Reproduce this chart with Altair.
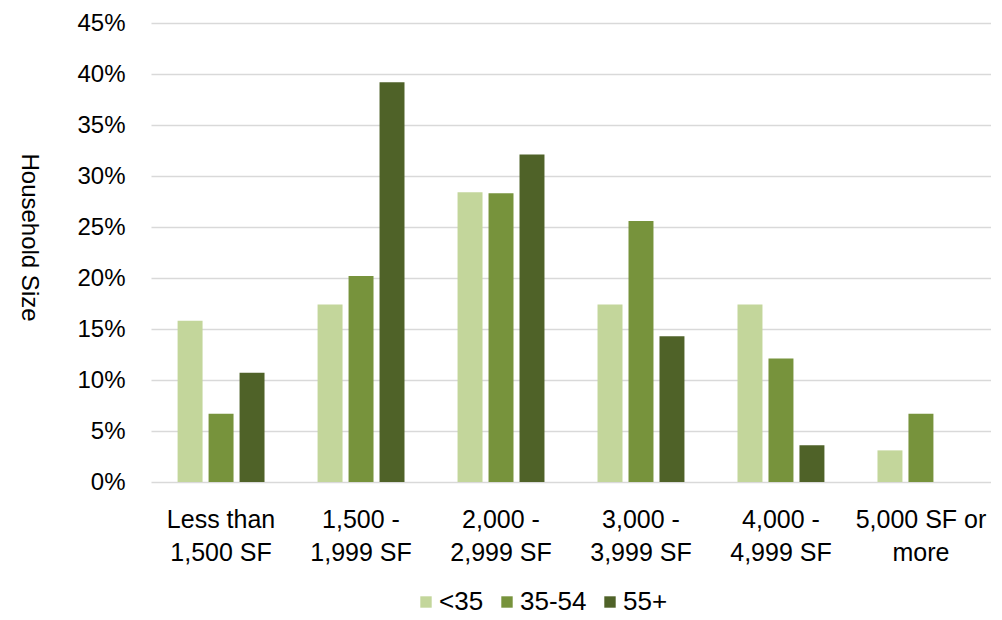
import altair as alt
import pandas as pd

categories = ["Less than|1,500 SF", "1,500 -|1,999 SF", "2,000 -|2,999 SF",
              "3,000 -|3,999 SF", "4,000 -|4,999 SF", "5,000 SF or|more"]
age_groups = ["<35", "35-54", "55+"]
under_35 = [15.8, 17.4, 28.4, 17.4, 17.4, 3.1]
age_35_54 = [6.7, 20.2, 28.3, 25.6, 12.1, 6.7]
age_55_plus = [10.7, 39.2, 32.1, 14.3, 3.6, None]
colors = ["#C3D69B", "#77933C", "#4F6228"]

rows = []
for series, vals in zip(age_groups, [under_35, age_35_54, age_55_plus]):
    for c, v in zip(categories, vals):
        if v is not None:
            rows.append({"cat": c, "age": series, "value": v / 100})
df = pd.DataFrame(rows)

FONT = "Liberation Sans"

chart = alt.Chart(df).mark_bar().encode(
    x=alt.X("cat:N", sort=categories,
            scale=alt.Scale(paddingInner=0.379, paddingOuter=0.19),
            axis=alt.Axis(title=None, labelAngle=0, labelExpr="split(datum.label, '|')",
                          labelFont=FONT, labelFontSize=25, labelColor="#000000",
                          labelLineHeight=33, labelPadding=25, ticks=False, domain=False)),
    xOffset=alt.XOffset("age:N", sort=age_groups,
                        scale=alt.Scale(paddingInner=0.194, paddingOuter=0)),
    y=alt.Y("value:Q", scale=alt.Scale(domain=[0, 0.45], nice=False),
            axis=alt.Axis(title="Household Size", format=".0%", values=[i * 0.05 for i in range(10)],
                          labelFont=FONT, labelFontSize=24, labelColor="#000000", labelPadding=26,
                          ticks=False, domain=False, grid=True, gridColor="#d9d9d9", gridWidth=1.5,
                          titleFont=FONT, titleFontSize=24, titleFontWeight="normal", titleColor="#000000",
                          titleAngle=90, titleX=-123, titleY=214, titleAlign="center",
                          titleBaseline="middle")),
    color=alt.Color("age:N", sort=age_groups,
                    scale=alt.Scale(domain=age_groups, range=colors),
                    legend=alt.Legend(title=None, orient="none", direction="horizontal",
                                      legendX=262, legendY=566, symbolType="square",
                                      symbolSize=130, symbolStrokeWidth=0, labelFont=FONT,
                                      labelFontSize=26, labelColor="#000000", labelOffset=0,
                                      columnPadding=10)),
).properties(
    width=840, height=459,
    autosize=alt.AutoSizeParams(type="none"),
    padding={"left": 143, "top": 15, "right": 0, "bottom": 136},
).configure_view(stroke=None)

chart.save("out.html", embed_options={"renderer": "svg", "actions": False})
